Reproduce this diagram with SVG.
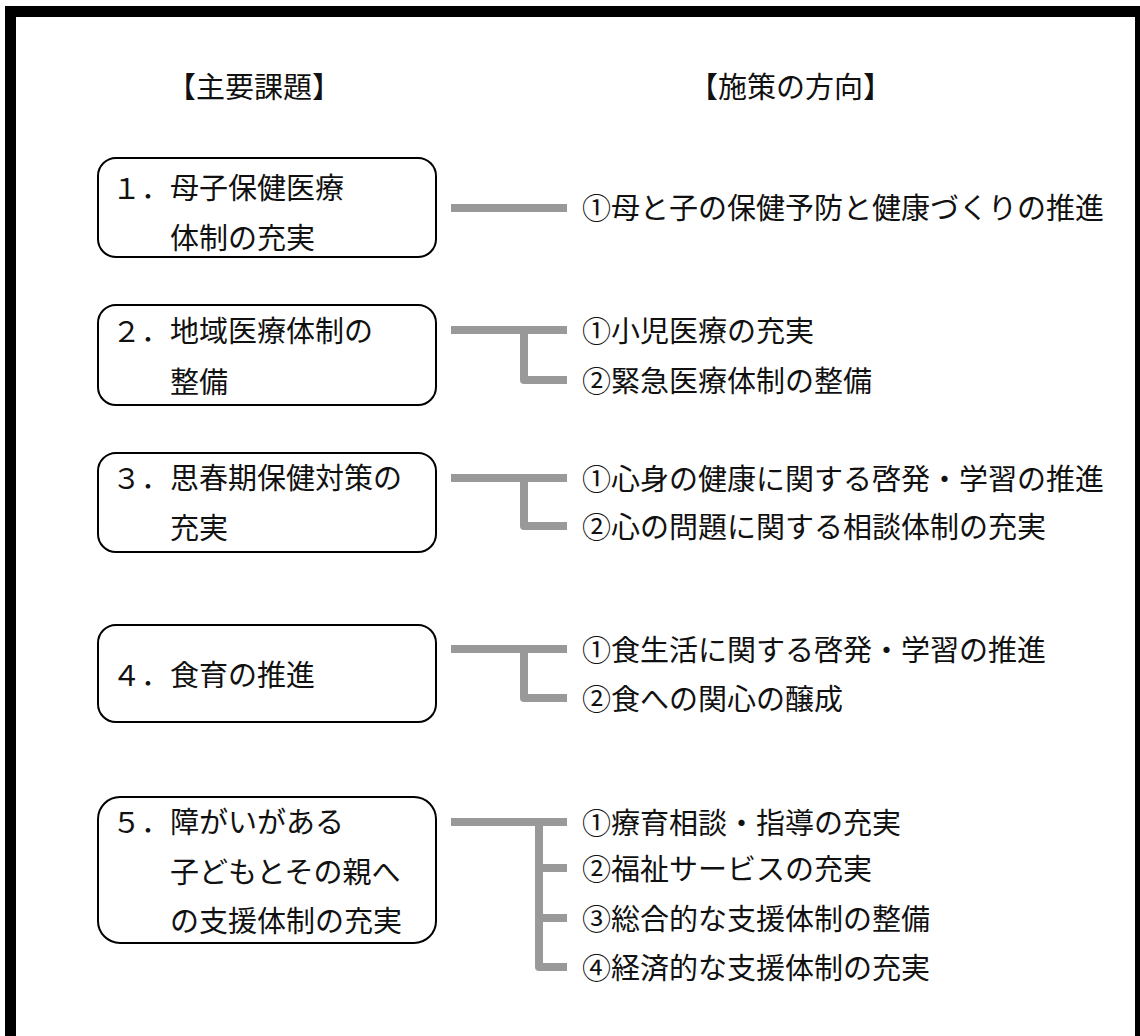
<svg xmlns="http://www.w3.org/2000/svg" width="1140" height="1036" viewBox="0 0 1140 1036">
<style>
  .t { font-family: "Noto Sans CJK JP", "Noto Sans CJK SC", sans-serif; font-size: 29px; fill: #111; }
  .box { fill: #fff; stroke: #000; stroke-width: 2; }
  .conn { fill: none; stroke: #999999; stroke-width: 8; stroke-linejoin: round; }
</style>
<rect x="0" y="0" width="1140" height="1036" fill="#fff"/>
<rect id="frame" x="10.5" y="11.5" width="1130" height="1100" fill="none" stroke="#000" stroke-width="11"/>
<g id="headers">
  <text class="t" x="167" y="98">【主要課題】</text>
  <text class="t" x="689" y="98">【施策の方向】</text>
</g>
<g id="connectors">
  <path class="conn" d="M451,208 H567"/>
  <path class="conn" d="M451,330 H567 M524,330 V380 H567"/>
  <path class="conn" d="M451,478 H567 M524,478 V526 H567"/>
  <path class="conn" d="M451,649 H567 M524,649 V698 H567"/>
  <path class="conn" d="M451,822 H567 M539,822 V967 H567 M539,868 H567 M539,918 H567"/>
</g>
<g id="node1">
  <rect class="box" x="98" y="158" width="338" height="99" rx="18"/>
  <text class="t" x="112" y="199">１．母子保健医療</text>
  <text class="t" x="170" y="249">体制の充実</text>
</g>
<g id="node2">
  <rect class="box" x="98" y="305" width="338" height="100" rx="18"/>
  <text class="t" x="112" y="342">２．地域医療体制の</text>
  <text class="t" x="170" y="393">整備</text>
</g>
<g id="node3">
  <rect class="box" x="98" y="453" width="338" height="99" rx="18"/>
  <text class="t" x="112" y="489">３．思春期保健対策の</text>
  <text class="t" x="170" y="539">充実</text>
</g>
<g id="node4">
  <rect class="box" x="98" y="625" width="338" height="97" rx="18"/>
  <text class="t" x="112" y="686">４．食育の推進</text>
</g>
<g id="node5">
  <rect class="box" x="98" y="797" width="338" height="146" rx="22"/>
  <text class="t" x="112" y="833">５．障がいがある</text>
  <text class="t" x="170" y="883">子どもとその親へ</text>
  <text class="t" x="170" y="932">の支援体制の充実</text>
</g>
<g id="items">
  <text class="t" x="582" y="219">①母と子の保健予防と健康づくりの推進</text>
  <text class="t" x="582" y="342">①小児医療の充実</text>
  <text class="t" x="582" y="392">②緊急医療体制の整備</text>
  <text class="t" x="582" y="490">①心身の健康に関する啓発・学習の推進</text>
  <text class="t" x="582" y="538">②心の問題に関する相談体制の充実</text>
  <text class="t" x="582" y="661">①食生活に関する啓発・学習の推進</text>
  <text class="t" x="582" y="710">②食への関心の醸成</text>
  <text class="t" x="582" y="834">①療育相談・指導の充実</text>
  <text class="t" x="582" y="880">②福祉サービスの充実</text>
  <text class="t" x="582" y="930">③総合的な支援体制の整備</text>
  <text class="t" x="582" y="979">④経済的な支援体制の充実</text>
</g>
</svg>
